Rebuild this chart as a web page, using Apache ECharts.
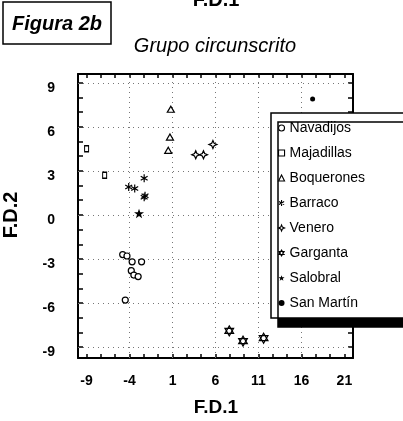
<!DOCTYPE html>
<html>
<head>
<meta charset="utf-8">
<script src="https://cdn.jsdelivr.net/npm/echarts@6/dist/echarts.min.js"></script>
<style>
html, body { margin: 0; padding: 0; background: #fff; }
#chart { width: 403px; height: 421px; }
</style>
</head>
<body>
<div id="chart"></div>
<script>
// puntos (F.D.1, F.D.2)
const navadijos = [[-4.8, -2.7], [-4.3, -2.8], [-3.7, -3.2], [-2.6, -3.2], [-3.8, -3.8], [-3.5, -4.1], [-3.0, -4.2], [-4.5, -5.8]];
const majadillas = [[-9.0, 4.5], [-6.9, 2.7]];
const boquerones = [[0.8, 7.2], [0.7, 5.3], [0.5, 4.4]];
const barraco = [[-2.3, 2.5], [-4.1, 1.9], [-3.4, 1.8], [-2.3, 1.2], [-2.2, 1.3]];
const venero = [[3.7, 4.1], [4.6, 4.1], [5.7, 4.8]];
const garganta = [[7.6, -7.9], [9.2, -8.6], [11.6, -8.4]];
const salobral = [[-2.9, 0.1]];
const sanMartin = [[17.3, 7.9]];

const xLabelValues = [-9, -4, 1, 6, 11, 16, 21];
const yLabelValues = [-9, -6, -3, 0, 3, 6, 9];
const xGridValues = [-4, 1, 6, 11, 16];
const yGridValues = [-9, -6, -3, 0, 3, 6, 9];

const xTicks = [];
for (let v = -9; v <= 21.01; v += 5 / 3) xTicks.push(+v.toFixed(3));
const yTicks = [];
for (let v = -9; v <= 9; v++) yTicks.push(v);

const FONT = '"Liberation Sans", Arial, sans-serif';

const ASTERISK = 'path://M0,-10L0,10M-8.66,-5L8.66,5M-8.66,5L8.66,-5';
const CROSSDIAMOND = 'path://M0,-10L3,-3L10,0L3,3L0,10L-3,3L-10,0L-3,-3Z';
const HEXAGRAM = 'path://M0,-10L8.66,5L-8.66,5ZM0,10L8.66,-5L-8.66,-5Z';
const STAR = 'path://M0,-10L2.35,-3.24L9.51,-3.09L3.8,1.24L5.88,8.09L0,4L-5.88,8.09L-3.8,1.24L-9.51,-3.09L-2.35,-3.24Z';

function serie(name, data, symbol, size, filled) {
    return {
        name: name,
        type: 'scatter',
        data: data,
        symbol: symbol,
        symbolSize: size,
        symbolKeepAspect: true,
        itemStyle: {
            color: filled ? '#000' : '#fff',
            borderColor: '#000',
            borderWidth: filled ? 0 : 1.2,
            opacity: 1
        },
        emphasis: { disabled: true },
        z: 5
    };
}

const series = [
    serie('Navadijos', navadijos, 'circle', 6, false),
    serie('Majadillas', majadillas, 'rect', [4, 6], false),
    serie('Boquerones', boquerones, 'triangle', [7, 6], false),
    serie('Barraco', barraco, ASTERISK, 8, false),
    serie('Venero', venero, CROSSDIAMOND, 8, false),
    serie('Garganta', garganta, HEXAGRAM, 10, false),
    serie('Salobral', salobral, STAR, 10, true),
    serie('San Martín', sanMartin, 'circle', 5, true)
];

// lineas punteadas de la reticula
series.push({
    type: 'scatter',
    data: [],
    silent: true,
    markLine: {
        silent: true,
        symbol: 'none',
        label: { show: false },
        lineStyle: { color: '#777', width: 1, type: [1, 4] },
        data: xGridValues.map(v => ({ xAxis: v })).concat(yGridValues.map(v => ({ yAxis: v })))
    }
});

const legendIcons = {
    'Navadijos': 'circle', 'Majadillas': 'rect', 'Boquerones': 'triangle', 'Barraco': ASTERISK,
    'Venero': CROSSDIAMOND, 'Garganta': HEXAGRAM, 'Salobral': STAR, 'San Martín': 'circle'
};
const filledNames = ['Salobral', 'San Martín'];

const axisLine = { show: true, onZero: false, lineStyle: { color: '#000', width: 2 } };

const chart = echarts.init(document.getElementById('chart'));
chart.setOption({
    animation: false,
    backgroundColor: '#fff',
    grid: { left: 78, top: 74, width: 275, height: 284 },
    xAxis: [{
        type: 'value', position: 'bottom', min: -10, max: 22,
        axisLine: axisLine,
        axisTick: { show: true, inside: true, length: 4, customValues: xTicks, lineStyle: { color: '#000', width: 1.5 } },
        axisLabel: { customValues: xLabelValues, margin: 16, color: '#000', fontWeight: 'bold', fontSize: 14, fontFamily: FONT },
        splitLine: { show: false }
    }, {
        type: 'value', position: 'top', min: -10, max: 22,
        axisLine: axisLine,
        axisTick: { show: true, inside: true, length: 4, customValues: xTicks, lineStyle: { color: '#000', width: 1.5 } },
        axisLabel: { show: false },
        splitLine: { show: false }
    }],
    yAxis: [{
        type: 'value', position: 'left', min: -9.75, max: 9.6,
        axisLine: axisLine,
        axisTick: { show: true, inside: true, length: 5, customValues: yTicks, lineStyle: { color: '#000', width: 1.5 } },
        axisLabel: {
            customValues: yLabelValues, margin: 23, color: '#000', fontWeight: 'bold', fontSize: 14,
            fontFamily: FONT, verticalAlign: 'top', lineHeight: 10
        },
        splitLine: { show: false }
    }, {
        type: 'value', position: 'right', min: -9.75, max: 9.6,
        axisLine: axisLine,
        axisTick: { show: true, inside: true, length: 5, customValues: yTicks, lineStyle: { color: '#000', width: 1.5 } },
        axisLabel: { show: false },
        splitLine: { show: false }
    }],
    legend: {
        orient: 'vertical',
        left: 271, top: 113,
        backgroundColor: '#fff',
        borderColor: '#000', borderWidth: 1.5, borderRadius: 0,
        padding: [8, 60, 8, 7],
        itemGap: 11, itemWidth: 6, itemHeight: 6,
        selectedMode: false,
        shadowColor: '#000', shadowBlur: 0, shadowOffsetX: 7, shadowOffsetY: 9,
        textStyle: { fontSize: 14, fontFamily: FONT, color: '#000', lineHeight: 14 },
        z: 10,
        data: Object.keys(legendIcons).map(n => ({
            name: n,
            icon: legendIcons[n],
            itemStyle: {
                color: filledNames.includes(n) ? '#000' : '#fff',
                borderColor: '#000',
                borderWidth: filledNames.includes(n) ? 0 : 1.1
            }
        }))
    },
    graphic: [
        { type: 'rect', shape: { x: 3, y: 2, width: 108, height: 42 }, style: { fill: '#fff', stroke: '#000', lineWidth: 1.5 } },
        { type: 'text', x: 57, y: 24, style: { text: 'Figura 2b', font: 'italic bold 20px ' + FONT, fill: '#000', textAlign: 'center', textVerticalAlign: 'middle' } },
        { type: 'text', x: 216, y: 0, style: { text: 'F.D.1', font: 'bold 20px ' + FONT, fill: '#000', textAlign: 'center', textVerticalAlign: 'middle' } },
        { type: 'text', x: 215, y: 46, style: { text: 'Grupo circunscrito', font: 'italic 20px ' + FONT, fill: '#000', textAlign: 'center', textVerticalAlign: 'middle' } },
        { type: 'text', x: 216, y: 408, style: { text: 'F.D.1', font: 'bold 19px ' + FONT, fill: '#000', textAlign: 'center', textVerticalAlign: 'middle' } },
        { type: 'text', x: 11, y: 215, rotation: Math.PI / 2, style: { text: 'F.D.2', font: 'bold 20px ' + FONT, fill: '#000', textAlign: 'center', textVerticalAlign: 'middle' } }
    ],
    series: series
});
</script>
</body>
</html>
